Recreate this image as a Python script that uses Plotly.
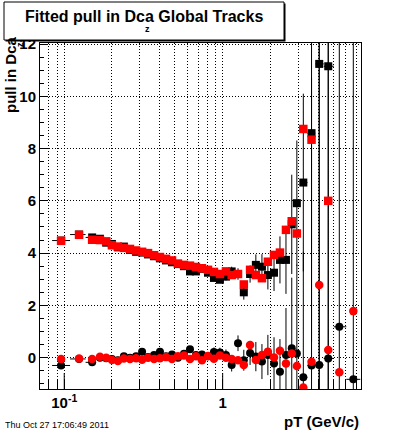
import numpy as np
import plotly.graph_objects as go

# ---------------- data ----------------
pt = [0.0955, 0.124, 0.150, 0.168, 0.184, 0.200, 0.218, 0.238, 0.260, 0.284,
      0.310, 0.338, 0.369, 0.402, 0.439, 0.479, 0.522, 0.570, 0.622, 0.678,
      0.740, 0.808, 0.881, 0.961, 1.049, 1.14, 1.25, 1.36, 1.49, 1.62,
      1.77, 1.93, 2.11, 2.30, 2.51, 2.73, 2.94, 3.23, 3.64, 4.07,
      4.64, 5.45, 6.68]

sigma_red = [4.47, 4.70, 4.51, 4.50, 4.45, 4.30, 4.25, 4.20, 4.16, 4.10,
             4.05, 4.00, 3.92, 3.85, 3.78, 3.72, 3.60, 3.55, 3.52, 3.47,
             3.42, 3.36, 3.28, 3.20, 3.30, 3.16, 3.20, 2.80, 3.36, 3.16,
             3.04, 3.67, 3.93, 4.02, 4.89, 5.22, 4.75, 8.75, 8.34, None,
             6.00, None, None]

sigma_black = [4.48, 4.71, 4.60, 4.55, 4.40, 4.35, 4.22, 4.25, 4.12, 4.05,
               4.02, 3.95, 3.88, 3.80, 3.72, 3.65, 3.58, 3.50, 3.30, 3.30,
               3.40, 3.25, 3.05, 2.98, 3.10, 3.30, 3.20, 2.50, 3.20, 3.55,
               3.48, 3.16, 3.25, 3.74, 3.74, 5.10, 5.91, 6.70, 8.59, 11.24,
               11.15, None, None]

mean_red = [-0.05, -0.03, -0.05, 0.03, 0.00, -0.09, -0.13, -0.03, -0.05, -0.02,
            -0.08, 0.00, -0.05, -0.02, 0.02, -0.05, 0.05, 0.08, -0.05, 0.05,
            -0.10, 0.06, -0.04, 0.08, 0.00, -0.05, -0.10, -0.28, 0.48, -0.09,
            0.10, 0.23, 0.01, 0.26, -0.22, 0.16, -0.32, -1.14, -0.16, 2.78,
            0.29, -0.56, 1.78]

mean_black = [-0.30, -0.05, -0.18, 0.00, -0.02, -0.05, -0.10, 0.05, 0.00, 0.05,
              0.23, 0.02, 0.10, 0.23, 0.05, 0.12, 0.00, 0.15, 0.32, 0.10,
              0.12, 0.05, 0.22, 0.20, 0.10, -0.28, 0.55, -0.10, 0.18, 0.04,
              -0.15, 0.10, -0.22, -0.54, 0.10, 0.36, 0.16, -0.75, -0.30, -0.28,
              -0.03, 1.18, -0.83]

sigma_black_err = [0.05, 0.05, 0.04, 0.04, 0.04, 0.04, 0.04, 0.04, 0.04, 0.04,
                   0.05, 0.05, 0.05, 0.05, 0.06, 0.06, 0.07, 0.07, 0.08, 0.09,
                   0.10, 0.11, 0.12, 0.13, 0.15, 0.18, 0.22, 0.28, 0.33, 0.40,
                   0.48, 0.55, 0.70, 0.90, 1.3, 1.9, 2.4, 3.4, 8.0, 20.0,
                   20.0, 20.0, 20.0]

mean_black_err = [0.07, 0.07, 0.06, 0.06, 0.06, 0.06, 0.06, 0.06, 0.06, 0.06,
                  0.07, 0.07, 0.07, 0.07, 0.08, 0.08, 0.10, 0.10, 0.11, 0.13,
                  0.14, 0.15, 0.17, 0.18, 0.21, 0.25, 0.30, 0.40, 0.46, 0.56,
                  0.67, 0.77, 1.0, 1.25, 1.8, 2.7, 3.4, 4.8, 11.0, 28.0,
                  28.0, 28.0, 28.0]

x_grid_vals = [0.08, 0.09, 0.1, 0.2, 0.3, 0.4, 0.5, 0.6, 0.7, 0.8, 0.9,
               1, 2, 3, 4, 5, 6, 7]
x_label_vals = [0.1, 1]
x_label_text = ["<b>10<sup>-1</sup></b>", "<b>1</b>"]
y_tick_vals = [0, 2, 4, 6, 8, 10, 12]
y_tick_text = ["<b>%d</b>" % v for v in y_tick_vals]

x_tick_text_all = [x_label_text[x_label_vals.index(v)] if v in x_label_vals else ""
                   for v in x_grid_vals]

# bin half-widths (in log space) from the bin centres
lp = np.log10(pt)
mids = (lp[1:] + lp[:-1]) / 2
lo_edges = np.concatenate([[lp[0] - (mids[0] - lp[0])], mids])
hi_edges = np.concatenate([mids, [lp[-1] + (lp[-1] - mids[-1])]])
xerr_plus = list(10 ** hi_edges - np.array(pt))
xerr_minus = list(np.array(pt) - 10 ** lo_edges)

FONT = "Liberation Sans"
DOT = "1px,2px"

fig = go.Figure()

fig.add_trace(go.Scatter(
    x=pt, y=sigma_black, mode="markers",
    marker=dict(symbol="square", size=8, color="black"),
    error_y=dict(type="data", array=sigma_black_err, color="black", thickness=1, width=0),
    error_x=dict(type="data", array=xerr_plus, arrayminus=xerr_minus, color="black", thickness=1, width=0),
    showlegend=False))
fig.add_trace(go.Scatter(
    x=pt, y=mean_black, mode="markers",
    marker=dict(symbol="circle", size=8, color="black"),
    error_y=dict(type="data", array=mean_black_err, color="black", thickness=1, width=0),
    error_x=dict(type="data", array=xerr_plus, arrayminus=xerr_minus, color="black", thickness=1, width=0),
    showlegend=False))
fig.add_trace(go.Scatter(
    x=pt, y=sigma_red, mode="markers",
    marker=dict(symbol="square", size=8.5, color="#ff0000"),
    showlegend=False))
fig.add_trace(go.Scatter(
    x=pt, y=mean_red, mode="markers",
    marker=dict(symbol="circle", size=8.5, color="#ff0000"),
    showlegend=False))

L, R, T, B = 40, 39, 43, 44
W, H = 400, 433
pw, ph = W - L - R, H - T - B

def px(x):
    return (x - L) / pw

def py(y):
    return (H - B - y) / ph

fig.update_layout(
    width=W, height=H,
    margin=dict(l=L, r=R, t=T, b=B, pad=0),
    paper_bgcolor="white", plot_bgcolor="white",
    font=dict(family=FONT, color="black"),
    xaxis=dict(
        type="log", range=[np.log10(0.0703), np.log10(7.47)],
        tickmode="array", tickvals=x_grid_vals, ticktext=x_tick_text_all,
        tickfont=dict(size=15, family=FONT),
        ticks="inside", ticklen=9, tickwidth=1, tickcolor="black",
        showline=True, linecolor="black", linewidth=1, mirror=True,
        showgrid=True, gridcolor="black", griddash=DOT, gridwidth=1,
        zeroline=False,
    ),
    yaxis=dict(
        range=[-1.2, 12.04],
        tickmode="array", tickvals=y_tick_vals, ticktext=y_tick_text,
        tickfont=dict(size=15, family=FONT),
        ticks="inside", ticklen=8, tickwidth=1, tickcolor="black",
        showline=True, linecolor="black", linewidth=1, mirror=True,
        showgrid=True, gridcolor="black", griddash=DOT, gridwidth=1,
        minor=dict(dtick=0.5, tick0=0, ticks="inside", ticklen=4,
                   tickcolor="black", tickwidth=1, showgrid=False),
        zeroline=False,
    ),
)

# longer decade ticks on the x axis
for v in x_label_vals:
    fig.add_shape(type="line", xref="x", yref="paper", x0=v, x1=v,
                  y0=0, y1=16 / ph, line=dict(color="black", width=1))

# title box with thin shadow
fig.add_shape(type="rect", xref="paper", yref="paper",
              x0=px(5.5), x1=px(285.5), y0=py(41.5), y1=py(3.5),
              line=dict(width=0), fillcolor="black", layer="above")
fig.add_shape(type="rect", xref="paper", yref="paper",
              x0=px(4), x1=px(284), y0=py(40), y1=py(2),
              line=dict(width=1, color="black"), fillcolor="white", layer="above")

ann = [
    dict(text="<b>Fitted pull in Dca Global Tracks</b>", x=px(144), y=py(17),
         font=dict(size=16)),
    dict(text="<b>z</b>", x=px(147), y=py(29), font=dict(size=9)),
    dict(text="<b>pull in Dca</b>", x=px(11), y=py(75), textangle=-90,
         font=dict(size=15)),
    dict(text="<b>z</b>", x=px(20), y=py(45), textangle=-90, font=dict(size=9)),
    dict(text="<b>pT (GeV/c)</b>", x=px(361), y=py(421), xanchor="right",
         font=dict(size=15)),
    dict(text="Thu Oct 27 17:06:49 2011", x=px(3), y=py(425), xanchor="left",
         font=dict(size=9)),
]
for a in ann:
    a.setdefault("xanchor", "center")
    fig.add_annotation(xref="paper", yref="paper", showarrow=False,
                       yanchor="middle", **a)

fig.write_html("out.html", config={"displayModeBar": False},
               post_script="document.body.style.margin='0';document.body.style.padding='0';")
